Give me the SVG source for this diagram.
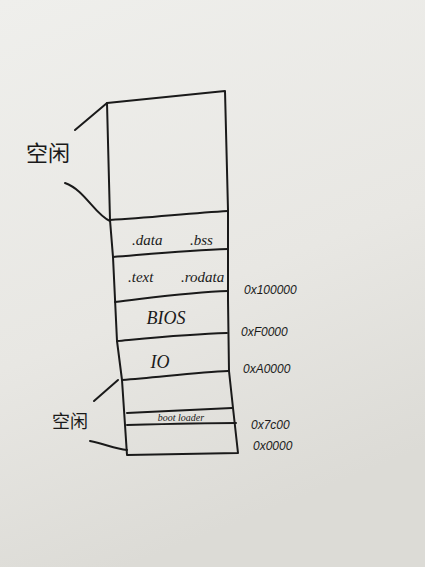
<svg xmlns="http://www.w3.org/2000/svg" width="425" height="567" viewBox="0 0 425 567">
<defs>
<linearGradient id="paper" x1="0" y1="0" x2="0.3" y2="1">
<stop offset="0" stop-color="#efefec"/>
<stop offset="0.6" stop-color="#e8e7e3"/>
<stop offset="1" stop-color="#dcdbd6"/>
</linearGradient>
<style>
.ln{fill:none;stroke:#1a1a1a;stroke-width:2;stroke-linecap:round;stroke-linejoin:round}
.t{font-family:"Liberation Serif","DejaVu Serif",serif;fill:#1a1a1a;font-style:italic}
.a{font-family:"Liberation Sans","DejaVu Sans",sans-serif;fill:#1a1a1a;font-size:12px;font-style:italic}
.cn{font-family:"Noto Sans CJK SC",sans-serif;fill:#1a1a1a;font-weight:400}
</style>
</defs>
<rect width="425" height="567" fill="url(#paper)"/>
<g id="stack">
<path class="ln" d="M107,103 L225,91 L228,210 L228,300 L229,371 L233,408 L238,453 L127,455 L122,380 L117,341 L113,257 L110,220 Z"/>
</g>
<g id="free-top">
<text class="cn" x="48" y="161" font-size="22" text-anchor="middle">空闲</text>
</g>
<g id="data-bss">
<path class="ln" d="M110,220 C150,218 190,213 228,211"/>
<text class="t" x="132" y="245" font-size="15">.data</text>
<text class="t" x="190" y="245" font-size="15">.bss</text>
</g>
<g id="text-rodata">
<path class="ln" d="M113,257 C150,254 190,250 228,249"/>
<text class="t" x="128" y="282" font-size="15">.text</text>
<text class="t" x="181" y="282" font-size="15">.rodata</text>
<text class="a" x="244" y="294">0x100000</text>
</g>
<g id="bios">
<path class="ln" d="M115,302 C150,298 190,292 228,291"/>
<text class="t" x="166" y="324" font-size="18" text-anchor="middle">BIOS</text>
<text class="a" x="241" y="336">0xF0000</text>
</g>
<g id="io">
<path class="ln" d="M117,341 C150,338 190,334 227,333"/>
<text class="t" x="160" y="368" font-size="18" text-anchor="middle">IO</text>
<text class="a" x="243" y="373">0xA0000</text>
</g>
<g id="free-bottom">
<path class="ln" d="M122,380 C160,377 200,372 228,371"/>
<text class="cn" x="70" y="428" font-size="18" text-anchor="middle">空闲</text>
</g>
<g id="boot-loader">
<path class="ln" d="M127,413 C165,411 205,409 232,408"/>
<path class="ln" d="M127,425 C165,424 205,423 236,423"/>
<text class="t" x="181" y="421" font-size="10" text-anchor="middle">boot loader</text>
<text class="a" x="251" y="429">0x7c00</text>
<text class="a" x="253" y="450">0x0000</text>
</g>
<g id="connectors">
<path class="ln" d="M75,130 L107,103"/>
<path class="ln" d="M65,183 C85,190 95,215 110,221"/>
<path class="ln" d="M94,401 L118,380"/>
<path class="ln" d="M90,441 C105,444 115,449 127,450"/>
</g>
</svg>
